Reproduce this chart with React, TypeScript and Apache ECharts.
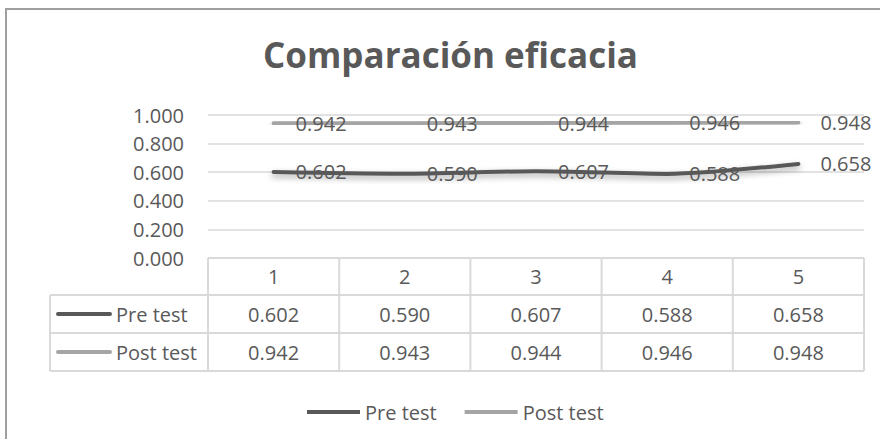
import React, { useEffect, useRef } from "react";
import * as echarts from "echarts";

// Chart data
const categories = ["1", "2", "3", "4", "5"];
const seriesNames = ["Pre test", "Post test"];
const preTest = [0.602, 0.59, 0.607, 0.588, 0.658];
const postTest = [0.942, 0.943, 0.944, 0.946, 0.948];
const yMin = 0;
const yMax = 1;
const yStep = 0.2;

// Styling
const TEXT = "#595959";
const PRE_COLOR = "#595959";
const POST_COLOR = "#a5a5a5";
const RULE = "#d9d9d9";
const FRAME = "#a0a0a0";
const FONT = "'Open Sans', 'Noto Sans', sans-serif";

// Data table layout
const HEADER_H = 37;
const ROW_H = 38;
const TABLE_LEFT = 50;

const fmt = (v: number) => v.toFixed(3);

export default function App() {
  const ref = useRef<HTMLDivElement>(null);

  useEffect(() => {
    if (!ref.current) return;
    const chart = echarts.init(ref.current, null, { renderer: "svg" });

    const lineSeries = (name: string, data: number[], color: string) => ({
      type: "line",
      name,
      data,
      smooth: 0.25,
      symbol: "circle",
      symbolSize: 0,
      showSymbol: true,
      itemStyle: { color },
      lineStyle: {
        color,
        width: 4,
        cap: "round",
        shadowColor: "rgba(0,0,0,0.35)",
        shadowBlur: 6,
        shadowOffsetY: 3,
      },
      label: {
        show: true,
        position: "right",
        distance: 22,
        formatter: (p: any) => fmt(p.value),
        color: TEXT,
        fontSize: 20,
        fontFamily: FONT,
      },
      emphasis: { disabled: true },
    });

    chart.setOption({
      animation: false,
      backgroundColor: "#ffffff",
      title: {
        text: "Comparación eficacia",
        left: 258,
        top: 32,
        textStyle: {
          color: TEXT,
          fontSize: 35,
          fontWeight: "bold",
          fontFamily: FONT,
        },
      },
      grid: { left: 208, right: 16, top: 115, bottom: 181 },
      xAxis: {
        type: "category",
        data: categories,
        boundaryGap: true,
        axisLine: { show: false },
        axisTick: { show: false },
        axisLabel: {
          color: TEXT,
          fontSize: 20,
          fontFamily: FONT,
          margin: 18,
          verticalAlign: "middle",
        },
      },
      yAxis: {
        type: "value",
        min: yMin,
        max: yMax,
        interval: yStep,
        axisLine: { show: false },
        axisTick: { show: false },
        axisLabel: {
          color: TEXT,
          fontSize: 20,
          fontFamily: FONT,
          margin: 24,
          formatter: (v: number) => fmt(v),
        },
        splitLine: { lineStyle: { color: RULE, width: 1.5 } },
      },
      legend: {
        data: seriesNames,
        left: 302,
        top: 397,
        icon: "rect",
        itemWidth: 53,
        itemHeight: 4,
        itemGap: 28,
        textStyle: { color: TEXT, fontSize: 20, fontFamily: FONT },
      },
      series: [
        lineSeries(seriesNames[0], preTest, PRE_COLOR),
        lineSeries(seriesNames[1], postTest, POST_COLOR),
      ],
    });

    // Data table under the plot, laid out from the axis scales
    const c0 = chart.convertToPixel({ xAxisIndex: 0 }, 0) as number;
    const c1 = chart.convertToPixel({ xAxisIndex: 0 }, 1) as number;
    const band = c1 - c0;
    const bounds = categories.map((_, i) => c0 - band / 2 + i * band);
    bounds.push(c0 - band / 2 + categories.length * band);
    const yTop = chart.convertToPixel({ yAxisIndex: 0 }, yMin) as number;
    const r1 = yTop + HEADER_H;
    const r2 = r1 + ROW_H;
    const r3 = r2 + ROW_H;
    const xL = bounds[0];
    const xR = bounds[bounds.length - 1];

    const ruleStyle = { stroke: RULE, lineWidth: 2 };
    const hLine = (x1: number, x2: number, y: number) => ({
      type: "line",
      silent: true,
      shape: { x1, y1: y, x2, y2: y },
      style: ruleStyle,
    });
    const vLine = (x: number, y1: number, y2: number) => ({
      type: "line",
      silent: true,
      shape: { x1: x, y1, x2: x, y2 },
      style: ruleStyle,
    });

    const elements: any[] = [];
    elements.push(hLine(xL, xR, yTop));
    elements.push(hLine(TABLE_LEFT, xR, r1));
    elements.push(hLine(TABLE_LEFT, xR, r2));
    elements.push(hLine(TABLE_LEFT, xR, r3));
    elements.push(vLine(TABLE_LEFT, r1, r3));
    bounds.forEach((x) => elements.push(vLine(x, yTop, r3)));

    const rows = [
      { name: seriesNames[0], values: preTest, color: PRE_COLOR, top: r1 },
      { name: seriesNames[1], values: postTest, color: POST_COLOR, top: r2 },
    ];
    rows.forEach((row) => {
      const cy = row.top + ROW_H / 2;
      elements.push({
        type: "line",
        silent: true,
        shape: { x1: TABLE_LEFT + 8, y1: cy, x2: TABLE_LEFT + 60, y2: cy },
        style: { stroke: row.color, lineWidth: 4, lineCap: "round" },
      });
      elements.push({
        type: "text",
        silent: true,
        x: TABLE_LEFT + 66,
        y: cy,
        style: {
          text: row.name,
          fill: TEXT,
          fontSize: 20,
          fontFamily: FONT,
          align: "left",
          verticalAlign: "middle",
        },
      });
      row.values.forEach((v, i) => {
        elements.push({
          type: "text",
          silent: true,
          x: bounds[i] + band / 2,
          y: cy,
          style: {
            text: fmt(v),
            fill: TEXT,
            fontSize: 20,
            fontFamily: FONT,
            align: "center",
            verticalAlign: "middle",
          },
        });
      });
    });

    // Chart frame (top and left edges)
    elements.push({
      type: "line",
      silent: true,
      shape: { x1: 5, y1: 9, x2: 880, y2: 9 },
      style: { stroke: FRAME, lineWidth: 2 },
    });
    elements.push({
      type: "line",
      silent: true,
      shape: { x1: 6, y1: 8, x2: 6, y2: 439 },
      style: { stroke: FRAME, lineWidth: 2 },
    });

    chart.setOption({ graphic: { elements } });

    return () => chart.dispose();
  }, []);

  return (
    <div
      ref={ref}
      style={{ position: "fixed", left: 0, top: 0, width: 880, height: 439 }}
    />
  );
}
